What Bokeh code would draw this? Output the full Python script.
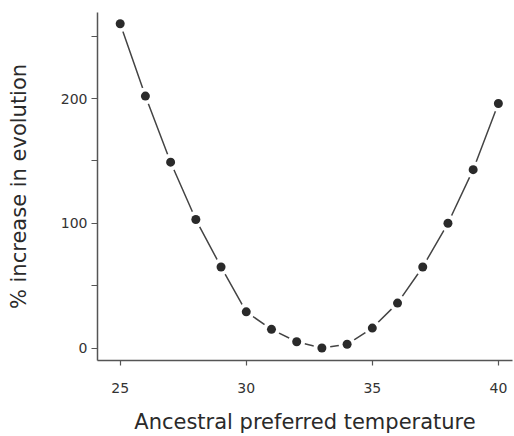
from bokeh.plotting import figure
from bokeh.models import FixedTicker, Range1d
from bokeh.embed import file_html
from bokeh.resources import INLINE

temperature = [25, 26, 27, 28, 29, 30, 31, 32, 33, 34, 35, 36, 37, 38, 39, 40]
increase = [260, 202, 149, 103, 65, 29, 15, 5, 0, 3, 16, 36, 65, 100, 143, 196]

x_ticks = [25, 30, 35, 40]
y_ticks = [0, 100, 200]
y_minor = [50, 150, 250]

FONT = "DejaVu Sans"
INK = "#2a2a2a"

p = figure(width=514, height=436, output_backend="svg", toolbar_location=None,
           x_range=Range1d(24.10, 40.56), y_range=Range1d(-10, 269),
           min_border_left=97, min_border_right=2, min_border_top=12, min_border_bottom=72)
p.outline_line_color = None
p.xgrid.visible = False
p.ygrid.visible = False
p.background_fill_color = "white"

p.line(temperature, increase, line_color="#444444", line_width=1.5)
p.scatter(temperature, increase, size=17, fill_color="white", line_color=None)
p.scatter(temperature, increase, size=9, fill_color=INK, line_color=None)

xa = p.xaxis[0]
xa.ticker = FixedTicker(ticks=x_ticks)
xa.axis_label = "Ancestral preferred temperature"
xa.axis_line_color = "#555555"
xa.axis_line_width = 1.5
xa.major_tick_line_color = "#555555"
xa.major_tick_line_width = 1.2
xa.major_tick_out = 5
xa.major_tick_in = 0
xa.minor_tick_line_color = None
xa.major_label_standoff = 17
xa.major_label_text_font = FONT
xa.major_label_text_font_size = "14px"
xa.major_label_text_color = "#333333"
xa.axis_label_standoff = 14
xa.axis_label_text_font = FONT
xa.axis_label_text_font_size = "21px"
xa.axis_label_text_font_style = "normal"
xa.axis_label_text_color = INK

ya = p.yaxis[0]
ya.ticker = FixedTicker(ticks=y_ticks, minor_ticks=y_minor)
ya.axis_label = "% increase in evolution"
ya.axis_line_color = "#555555"
ya.axis_line_width = 1.5
ya.major_tick_line_color = "#555555"
ya.major_tick_line_width = 1.2
ya.major_tick_out = 6
ya.major_tick_in = 0
ya.minor_tick_line_color = "#555555"
ya.minor_tick_line_width = 1.2
ya.minor_tick_out = 6
ya.minor_tick_in = 0
ya.major_label_standoff = 4
ya.major_label_text_font = FONT
ya.major_label_text_font_size = "14px"
ya.major_label_text_color = "#333333"
ya.axis_label_standoff = 27
ya.axis_label_text_font = FONT
ya.axis_label_text_font_size = "21px"
ya.axis_label_text_font_style = "normal"
ya.axis_label_text_color = INK

open("out.html", "w").write(file_html(p, INLINE))
